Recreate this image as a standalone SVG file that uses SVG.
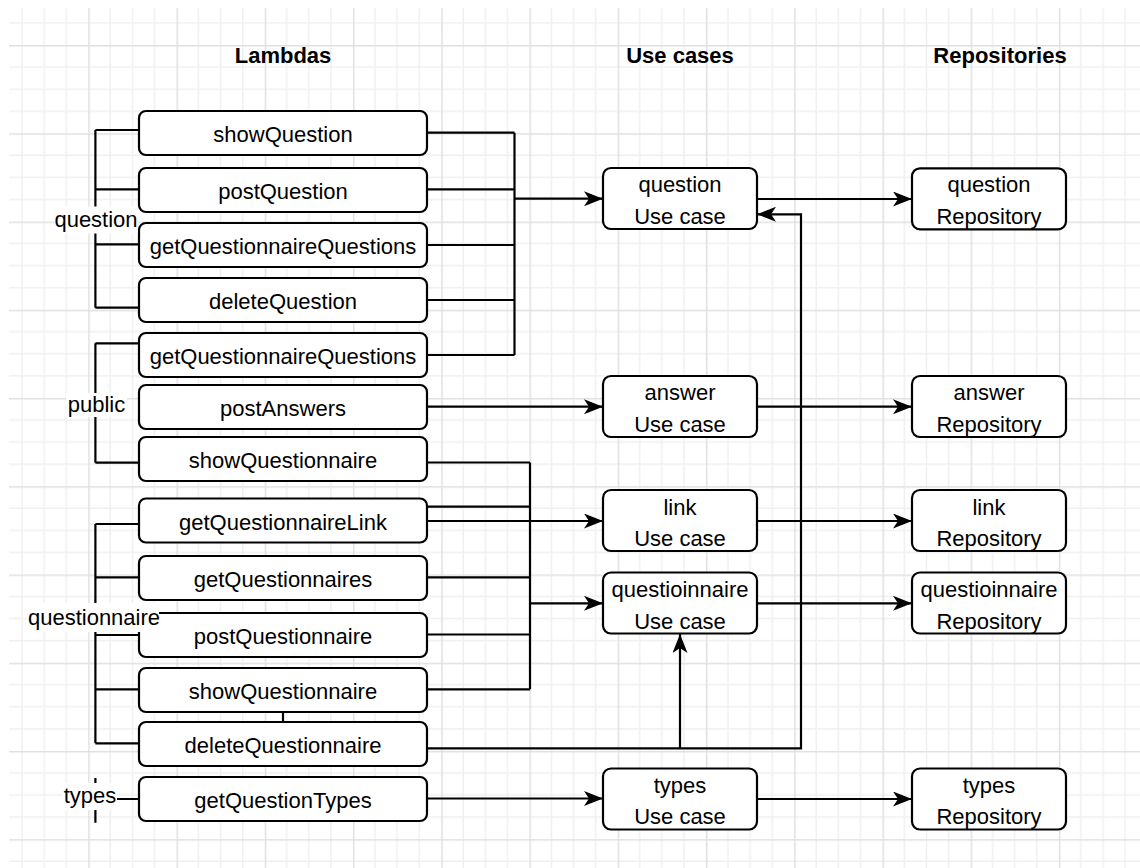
<svg xmlns="http://www.w3.org/2000/svg" width="1140" height="868" viewBox="0 0 1140 868">
  <defs>
    <!-- background grid: minor every 22px, major every 4 cells -->
    <pattern id="grid" patternUnits="userSpaceOnUse" x="0" y="45" width="88.24" height="88.24">
      <path d="M22.06 0V88.24M44.12 0V88.24M66.18 0V88.24M0 22.06H88.24M0 44.12H88.24M0 66.18H88.24" stroke="#f0f0f0" stroke-width="1.5" fill="none"/>
      <path d="M0.75 0V88.24M0 0.75H88.24" stroke="#e0e0e0" stroke-width="1.5" fill="none"/>
    </pattern>
    <marker id="arrow" markerUnits="userSpaceOnUse" markerWidth="20" markerHeight="16" refX="19" refY="7.5" orient="auto">
      <path d="M0 0L19 7.5L0 15L5 7.5Z" fill="#000"/>
    </marker>
    <style>
      .box { fill: #fff; stroke: #000; stroke-width: 2.2; }
      .txt { font-family: "Liberation Sans", Arial, sans-serif; font-size: 22px; fill: #000; text-anchor: middle; }
      .head { font-family: "Liberation Sans", Arial, sans-serif; font-size: 22px; font-weight: bold; fill: #000; text-anchor: middle; }
      .wire { fill: none; stroke: #000; stroke-width: 2.2; }
      .arr { fill: none; stroke: #000; stroke-width: 2.2; marker-end: url(#arrow); }
      .lblbg { fill: #fff; }
    </style>
  </defs>

  <rect width="1140" height="868" fill="#fff"/>
  <rect x="9" y="8" width="1131" height="860" fill="url(#grid)"/>

  <!-- column headings -->
  <g id="headings">
    <text class="head" x="283" y="63">Lambdas</text>
    <text class="head" x="680" y="63">Use cases</text>
    <text class="head" x="1000" y="63">Repositories</text>
  </g>

  <!-- connectors -->
  <g id="connectors">
    <!-- question lambdas to question use case -->
    <path class="wire" d="M427 132.7H514.5M427 189.3H514.5M427 245H514.5M427 300H514.5M427 355H514.5M514.5 132.7V355"/>
    <path class="arr" d="M514.5 198.7H603"/>
    <!-- postAnswers to answer use case -->
    <path class="arr" d="M427 406.7H603"/>
    <!-- questionnaire lambdas bus -->
    <path class="wire" d="M427 462.5H530M427 506.7H530M427 577.3H530M427 634.5H530M427 689.3H530M530 462.5V689.3"/>
    <path class="arr" d="M427 521H603"/>
    <path class="arr" d="M530 603.3H603"/>
    <!-- deleteQuestionnaire to question and questionnaire use cases -->
    <path class="arr" d="M427 748.3H801V214.3H757"/>
    <path class="arr" d="M680 748.3V634"/>
    <!-- getQuestionTypes to types use case -->
    <path class="arr" d="M427 798.5H603"/>
    <!-- use cases to repositories -->
    <path class="arr" d="M757 199H912"/>
    <path class="arr" d="M757 406.7H912"/>
    <path class="arr" d="M757 521H912"/>
    <path class="arr" d="M757 603.3H912"/>
    <path class="arr" d="M757 799H912"/>
    <!-- left-hand grouping brackets -->
    <path class="wire" d="M95.4 130V307.7M95.4 130H139M95.4 189.3H139M95.4 244.3H139M95.4 307.7H139"/>
    <path class="wire" d="M95.4 343.3V462.7M95.4 343.3H139M95.4 462.7H139"/>
    <path class="wire" d="M95.4 524V743.3M95.4 524H139M95.4 577.3H139M95.4 635H139M95.4 689.3H139M95.4 743.3H139"/>
    <path class="wire" d="M95.4 778V822.7M95.4 799H139"/>
    <!-- showQuestionnaire to deleteQuestionnaire -->
    <path class="wire" d="M283 711.7V721.7"/>
  </g>

  <!-- lambdas -->
  <g id="lambda-showQuestion"><rect class="box" x="139" y="111" width="288" height="44" rx="7"/><text class="txt" x="283" y="142">showQuestion</text></g>
  <g id="lambda-postQuestion"><rect class="box" x="139" y="168" width="288" height="44" rx="7"/><text class="txt" x="283" y="199">postQuestion</text></g>
  <g id="lambda-getQuestionnaireQuestions-1"><rect class="box" x="139" y="223" width="288" height="44" rx="7"/><text class="txt" x="283" y="254">getQuestionnaireQuestions</text></g>
  <g id="lambda-deleteQuestion"><rect class="box" x="139" y="278" width="288" height="44" rx="7"/><text class="txt" x="283" y="309">deleteQuestion</text></g>
  <g id="lambda-getQuestionnaireQuestions-2"><rect class="box" x="139" y="333" width="288" height="44" rx="7"/><text class="txt" x="283" y="364">getQuestionnaireQuestions</text></g>
  <g id="lambda-postAnswers"><rect class="box" x="139" y="385" width="288" height="44" rx="7"/><text class="txt" x="283" y="416">postAnswers</text></g>
  <g id="lambda-showQuestionnaire-1"><rect class="box" x="139" y="437" width="288" height="44" rx="7"/><text class="txt" x="283" y="468">showQuestionnaire</text></g>
  <g id="lambda-getQuestionnaireLink"><rect class="box" x="139" y="498.5" width="288" height="44" rx="7"/><text class="txt" x="283" y="529.5">getQuestionnaireLink</text></g>
  <g id="lambda-getQuestionnaires"><rect class="box" x="139" y="556" width="288" height="44" rx="7"/><text class="txt" x="283" y="587">getQuestionnaires</text></g>
  <g id="lambda-postQuestionnaire"><rect class="box" x="139" y="613" width="288" height="44" rx="7"/><text class="txt" x="283" y="644">postQuestionnaire</text></g>
  <g id="lambda-showQuestionnaire-2"><rect class="box" x="139" y="668" width="288" height="44" rx="7"/><text class="txt" x="283" y="699">showQuestionnaire</text></g>
  <g id="lambda-deleteQuestionnaire"><rect class="box" x="139" y="722" width="288" height="44" rx="7"/><text class="txt" x="283" y="753">deleteQuestionnaire</text></g>
  <g id="lambda-getQuestionTypes"><rect class="box" x="139" y="777" width="288" height="44" rx="7"/><text class="txt" x="283" y="808">getQuestionTypes</text></g>

  <!-- use cases -->
  <g id="usecase-question"><rect class="box" x="603" y="168" width="154" height="61" rx="8"/><text class="txt" x="680" y="192">question</text><text class="txt" x="680" y="224">Use case</text></g>
  <g id="usecase-answer"><rect class="box" x="603" y="376" width="154" height="61" rx="8"/><text class="txt" x="680" y="400">answer</text><text class="txt" x="680" y="432">Use case</text></g>
  <g id="usecase-link"><rect class="box" x="603" y="490" width="154" height="61" rx="8"/><text class="txt" x="680" y="514.5">link</text><text class="txt" x="680" y="546">Use case</text></g>
  <g id="usecase-questionnaire"><rect class="box" x="603" y="572.5" width="154" height="61" rx="8"/><text class="txt" x="680" y="596.5">questioinnaire</text><text class="txt" x="680" y="628.5">Use case</text></g>
  <g id="usecase-types"><rect class="box" x="603" y="768.5" width="154" height="61" rx="8"/><text class="txt" x="680" y="792.5">types</text><text class="txt" x="680" y="824">Use case</text></g>

  <!-- repositories -->
  <g id="repo-question"><rect class="box" x="912" y="168.3" width="154" height="61" rx="8"/><text class="txt" x="989" y="192">question</text><text class="txt" x="989" y="224">Repository</text></g>
  <g id="repo-answer"><rect class="box" x="912" y="376" width="154" height="61" rx="8"/><text class="txt" x="989" y="400">answer</text><text class="txt" x="989" y="432">Repository</text></g>
  <g id="repo-link"><rect class="box" x="912" y="490" width="154" height="61" rx="8"/><text class="txt" x="989" y="514.5">link</text><text class="txt" x="989" y="546">Repository</text></g>
  <g id="repo-questionnaire"><rect class="box" x="912" y="572.5" width="154" height="61" rx="8"/><text class="txt" x="989" y="596.5">questioinnaire</text><text class="txt" x="989" y="628.5">Repository</text></g>
  <g id="repo-types"><rect class="box" x="912" y="768.5" width="154" height="61" rx="8"/><text class="txt" x="989" y="792.5">types</text><text class="txt" x="989" y="824">Repository</text></g>

  <!-- group labels on the brackets -->
  <g id="group-labels">
    <rect class="lblbg" x="54" y="206.5" width="84" height="27"/>
    <text class="txt" x="96" y="226.5">question</text>
    <rect class="lblbg" x="66" y="393" width="61" height="24"/>
    <text class="txt" x="96.5" y="411.5">public</text>
    <rect class="lblbg" x="27" y="603" width="132" height="29"/>
    <text class="txt" x="94" y="625">questionnaire</text>
    <rect class="lblbg" x="62" y="783" width="55" height="27"/>
    <text class="txt" x="90" y="803">types</text>
  </g>
</svg>
